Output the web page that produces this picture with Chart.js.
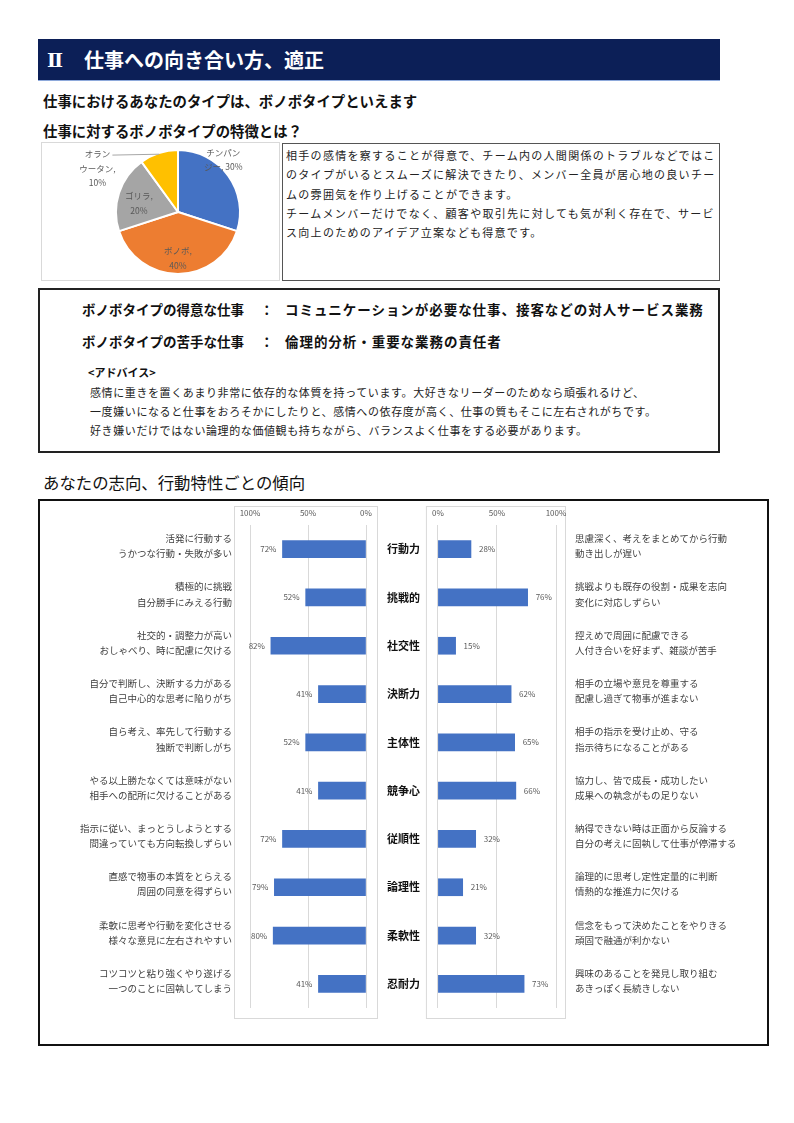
<!DOCTYPE html>
<html lang="ja">
<head>
<meta charset="utf-8">
<script src="https://cdn.jsdelivr.net/npm/chart.js@4.4.1/dist/chart.umd.min.js"></script>
<style>
  body { margin: 0; background: #fff; font-family: "Noto Sans CJK JP", "Noto Sans", sans-serif; color: #111; }
  .page { position: relative; width: 794px; height: 1123px; }
  .abs { position: absolute; white-space: nowrap; }
  .header { left: 38px; top: 39px; width: 682px; height: 42px; background: #0c1f57; color: #fff;
            font-size: 20px; font-weight: bold; line-height: 42px; border-bottom: 1px solid #8ea9db; box-sizing: border-box; }
  .header .num { position: absolute; left: 9px; font-family: "DejaVu Serif", serif; font-size: 19px; }
  .header .ttl { position: absolute; left: 46px; }
  .sub { font-size: 14.4px; font-weight: bold; line-height: 20px; left: 43px; }
  .box { position: absolute; box-sizing: border-box; }
  .desc { font-size: 11px; letter-spacing: 1.3px; line-height: 19.3px; color: #222; }
  .strong { font-size: 13.5px; font-weight: bold; line-height: 20px; }
  .wide { letter-spacing: 0.95px; }
  .adv { font-size: 11px; letter-spacing: 0.6px; line-height: 19px; color: #222; }
</style>
</head>
<body>
<div class="page">
  <div class="abs header"><span class="num">Ⅱ</span><span class="ttl">仕事への向き合い方、適正</span></div>
  <div class="abs sub" style="top:91px;">仕事におけるあなたのタイプは、ボノボタイプといえます</div>
  <div class="abs sub" style="top:121px;">仕事に対するボノボタイプの特徴とは？</div>

  <div class="box" style="left:41px; top:142px; width:239px; height:139px; border:1px solid #d9d9d9;"></div>
  <canvas id="pieChart" width="239" height="138" style="position:absolute; left:41px; top:142px;"></canvas>

  <div class="box" style="left:282px; top:143px; width:438px; height:138px; border:1px solid #555;"></div>
  <div class="abs desc" style="left:286px; top:146px;">相手の感情を察することが得意で、チーム内の人間関係のトラブルなどではこ<br>のタイプがいるとスムーズに解決できたり、メンバー全員が居心地の良いチー<br>ムの雰囲気を作り上げることができます。<br>チームメンバーだけでなく、顧客や取引先に対しても気が利く存在で、サービ<br>ス向上のためのアイデア立案なども得意です。</div>

  <div class="box" style="left:38px; top:288px; width:682px; height:165px; border:2px solid #222;"></div>
  <div class="abs strong" style="left:82px; top:299px;">ボノボタイプの得意な仕事</div>
  <div class="abs strong" style="left:260px; top:299px;">：</div>
  <div class="abs strong wide" style="left:285px; top:299px;">コミュニケーションが必要な仕事、接客などの対人サービス業務</div>
  <div class="abs strong" style="left:82px; top:331px;">ボノボタイプの苦手な仕事</div>
  <div class="abs strong" style="left:260px; top:331px;">：</div>
  <div class="abs strong wide" style="left:285px; top:331px;">倫理的分析・重要な業務の責任者</div>
  <div class="abs" style="left:88px; top:363px; font-size:11px; font-weight:bold; line-height:18px;">&lt;アドバイス&gt;</div>
  <div class="abs adv" style="left:90px; top:383px;">感情に重きを置くあまり非常に依存的な体質を持っています。大好きなリーダーのためなら頑張れるけど、<br>一度嫌いになると仕事をおろそかにしたりと、感情への依存度が高く、仕事の質もそこに左右されがちです。<br>好き嫌いだけではない論理的な価値観も持ちながら、バランスよく仕事をする必要があります。</div>

  <div class="abs" style="left:43px; top:471px; font-size:16.4px; line-height:22px;">あなたの志向、行動特性ごとの傾向</div>

  <div class="box" style="left:38px; top:499px; width:731px; height:547px; border:2px solid #111;"></div>
  <canvas id="leftChart" width="385" height="542" style="position:absolute; left:40px; top:501px;"></canvas>
  <canvas id="rightChart" width="341" height="542" style="position:absolute; left:425px; top:501px;"></canvas>
</div>

<script>
// pie: type distribution
const pieNames = ["チンパンジー", "ボノボ", "ゴリラ", "オランウータン"];
const pieValues = [30, 40, 20, 10];
const pieColors = ["#4472c4", "#ed7d31", "#a5a5a5", "#ffc000"];

// bar rows
const categories = ["行動力", "挑戦的", "社交性", "決断力", "主体性", "競争心", "従順性", "論理性", "柔軟性", "忍耐力"];
const leftValues = [72, 52, 82, 41, 52, 41, 72, 79, 80, 41];
const rightValues = [28, 76, 15, 62, 65, 66, 32, 21, 32, 73];
const leftTexts = [
    ["活発に行動する", "うかつな行動・失敗が多い"],
    ["積極的に挑戦", "自分勝手にみえる行動"],
    ["社交的・調整力が高い", "おしゃべり、時に配慮に欠ける"],
    ["自分で判断し、決断する力がある", "自己中心的な思考に陥りがち"],
    ["自ら考え、率先して行動する", "独断で判断しがち"],
    ["やる以上勝たなくては意味がない", "相手への配所に欠けることがある"],
    ["指示に従い、まっとうしようとする", "間違っていても方向転換しずらい"],
    ["直感で物事の本質をとらえる", "周囲の同意を得ずらい"],
    ["柔軟に思考や行動を変化させる", "様々な意見に左右されやすい"],
    ["コツコツと粘り強くやり遂げる", "一つのことに固執してしまう"]
];
const rightTexts = [
    ["思慮深く、考えをまとめてから行動", "動き出しが遅い"],
    ["挑戦よりも既存の役割・成果を志向", "変化に対応しずらい"],
    ["控えめで周囲に配慮できる", "人付き合いを好まず、雑談が苦手"],
    ["相手の立場や意見を尊重する", "配慮し過ぎて物事が進まない"],
    ["相手の指示を受け止め、守る", "指示待ちになることがある"],
    ["協力し、皆で成長・成功したい", "成果への執念がもの足りない"],
    ["納得できない時は正面から反論する", "自分の考えに固執して仕事が停滞する"],
    ["論理的に思考し定性定量的に判断", "情熱的な推進力に欠ける"],
    ["信念をもって決めたことをやりきる", "頑固で融通が利かない"],
    ["興味のあることを発見し取り組む", "あきっぽく長続きしない"]
];
const axisTicks = [0, 50, 100];

const FONT = '"Noto Sans CJK JP", sans-serif';

window.addEventListener('load', () => {

    // ---- pie ----
    // label anchor offsets in units of the radius
    const pieLabelPos = [[0.73, -0.84], [0, 0.75], [-0.63, -0.14], [-1.30, -0.70]];
    const pieLabelLines = [
        ["チンパン", "ジー, " + pieValues[0] + "%"],
        [pieNames[1] + ",", pieValues[1] + "%"],
        [pieNames[2] + ",", pieValues[2] + "%"],
        ["オラン", "ウータン,", pieValues[3] + "%"]
    ];

    const pieLabels = {
        id: 'pieLabels',
        afterDatasetsDraw(chart) {
            const ctx = chart.ctx;
            const arcs = chart.getDatasetMeta(0).data;
            ctx.save();
            ctx.font = '8.5px ' + FONT;
            ctx.fillStyle = '#595959';
            ctx.textAlign = 'center';
            ctx.textBaseline = 'middle';
            arcs.forEach((arc, i) => {
                const r = arc.outerRadius;
                const lx = arc.x + pieLabelPos[i][0] * r;
                const ly = arc.y + pieLabelPos[i][1] * r;
                const lines = pieLabelLines[i];
                const lh = 14.5;
                lines.forEach((t, k) => {
                    ctx.fillText(t, lx, ly + (k - (lines.length - 1) / 2) * lh);
                });
                if (i === 3) {
                    // leader line to the slice
                    const mid = (arc.startAngle + arc.endAngle) / 2;
                    ctx.strokeStyle = '#a6a6a6';
                    ctx.lineWidth = 1;
                    ctx.beginPath();
                    ctx.moveTo(lx + 15, ly - lh + 1);
                    ctx.lineTo(arc.x + Math.cos(mid) * r * 0.98, arc.y + Math.sin(mid) * r * 0.98);
                    ctx.stroke();
                }
            });
            ctx.restore();
        }
    };

    new Chart(document.getElementById('pieChart'), {
        type: 'pie',
        data: {
            labels: pieNames,
            datasets: [{data: pieValues, backgroundColor: pieColors, borderColor: '#fff', borderWidth: 2}]
        },
        options: {
            responsive: false,
            animation: false,
            layout: {padding: {left: 74, right: 39, top: 7, bottom: 5}},
            plugins: {legend: {display: false}, tooltip: {enabled: false}}
        },
        plugins: [pieLabels]
    });

    // ---- bars ----
    const frameAndValues = (side) => ({
        id: 'frame_' + side,
        beforeDraw(chart) {
            const a = chart.chartArea;
            const ctx = chart.ctx;
            ctx.save();
            ctx.strokeStyle = '#d9d9d9';
            ctx.lineWidth = 1;
            if (side === 'left') {
                ctx.strokeRect(a.left - 15.5, a.top - 18.5, a.width + 27, a.height + 29);
            } else {
                ctx.strokeRect(a.left - 11.5, a.top - 18.5, a.width + 21, a.height + 29);
            }
            ctx.restore();
        },
        afterDatasetsDraw(chart) {
            const ctx = chart.ctx;
            const vals = chart.data.datasets[0].data;
            ctx.save();
            ctx.font = '8px ' + FONT;
            ctx.fillStyle = '#595959';
            ctx.textBaseline = 'middle';
            chart.getDatasetMeta(0).data.forEach((bar, i) => {
                if (side === 'left') {
                    ctx.textAlign = 'right';
                    ctx.fillText(vals[i] + '%', bar.x - 6, bar.y);
                } else {
                    ctx.textAlign = 'left';
                    ctx.fillText(vals[i] + '%', bar.x + 8, bar.y);
                }
            });
            ctx.restore();
        }
    });

    const xAxis = (reverse) => ({
        type: 'linear',
        position: 'top',
        min: 0,
        max: 100,
        reverse: reverse,
        afterBuildTicks: (scale) => { scale.ticks = axisTicks.map(v => ({value: v})); },
        afterFit: (scale) => { scale.height = 24; },
        ticks: {
            callback: (v) => v + '%',
            font: {family: FONT, size: 8},
            color: '#595959',
            padding: 7,
            maxRotation: 0
        },
        grid: {color: '#d9d9d9', drawTicks: false},
        border: {display: false}
    });

    // fixed width, and no extra vertical padding from the two-line labels
    const fitY = (w) => (scale) => {
        scale.width = w;
        scale.paddingTop = 0;
        scale.paddingBottom = 0;
    };

    const textTicks = (texts) => ({
        callback: (v, i) => texts[i],
        font: {family: FONT, size: 9.5, lineHeight: 1.6},
        color: '#404040',
        labelOffset: -3,
        autoSkip: false
    });

    new Chart(document.getElementById('leftChart'), {
        type: 'bar',
        data: {
            labels: categories,
            datasets: [{data: leftValues, backgroundColor: '#4472c4', barThickness: 17}]
        },
        options: {
            indexAxis: 'y',
            responsive: false,
            animation: false,
            layout: {padding: {top: 0, bottom: 35, left: 0, right: 0}},
            scales: {
                x: xAxis(true),
                y: {
                    position: 'left',
                    afterFit: fitY(210),
                    ticks: Object.assign(textTicks(leftTexts), {padding: 18}),
                    grid: {display: false, drawTicks: false},
                    border: {display: false}
                },
                y2: {
                    type: 'category',
                    labels: categories,
                    position: 'right',
                    offset: true,
                    afterFit: fitY(59),
                    ticks: {font: {family: FONT, size: 11, weight: 'bold'}, color: '#111', padding: 21, autoSkip: false},
                    grid: {display: false, drawTicks: false},
                    border: {display: false}
                }
            },
            plugins: {legend: {display: false}, tooltip: {enabled: false}}
        },
        plugins: [frameAndValues('left')]
    });

    new Chart(document.getElementById('rightChart'), {
        type: 'bar',
        data: {
            labels: categories,
            datasets: [{data: rightValues, backgroundColor: '#4472c4', barThickness: 17}]
        },
        options: {
            indexAxis: 'y',
            responsive: false,
            animation: false,
            layout: {padding: {top: 0, bottom: 35, left: 9, right: 0}},
            scales: {
                x: xAxis(false),
                y: {display: false},
                y2: {
                    type: 'category',
                    labels: categories,
                    position: 'right',
                    offset: true,
                    afterFit: fitY(210),
                    ticks: Object.assign(textTicks(rightTexts), {padding: 19}),
                    grid: {display: false, drawTicks: false},
                    border: {display: false}
                }
            },
            plugins: {legend: {display: false}, tooltip: {enabled: false}}
        },
        plugins: [frameAndValues('right')]
    });

});
</script>
</body>
</html>
